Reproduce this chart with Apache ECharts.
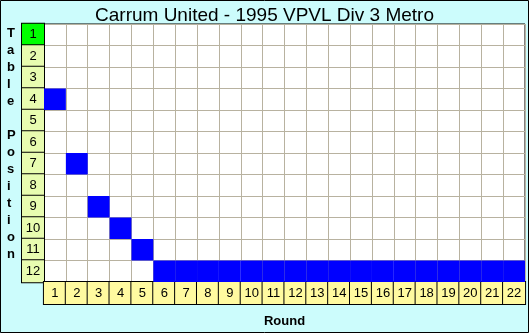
<!DOCTYPE html>
<html>
<head>
<meta charset="utf-8">
<script src="https://cdn.jsdelivr.net/npm/echarts@6/dist/echarts.min.js"></script>
<style>
html,body{margin:0;padding:0;background:#ccfcfc;}
#c{width:529px;height:333px;}
</style>
</head>
<body>
<div id="c"></div>
<script>
const titleText = 'Carrum United - 1995 VPVL Div 3 Metro';
const yAxisTitle = 'Table Position';
const xAxisTitle = 'Round';
const rounds = ['1','2','3','4','5','6','7','8','9','10','11','12','13','14','15','16','17','18','19','20','21','22'];
const positions = ['1','2','3','4','5','6','7','8','9','10','11','12'];
const tablePosition = [4,7,9,10,11,12,12,12,12,12,12,12,12,12,12,12,12,12,12,12,12,12];

const chart = echarts.init(document.getElementById('c'), null, {renderer:'canvas'});
const cellData = tablePosition.map((p,i)=>[i, p-1]);
const font = 'Arial, "Liberation Sans", sans-serif';
const cell = (bg)=>({width:22,height:22,lineHeight:22,align:'center',verticalAlign:'middle',
  backgroundColor:bg,borderColor:'#000',borderWidth:1,fontSize:13,color:'#000',fontFamily:font,padding:0});

chart.setOption({
  backgroundColor:'#ccfcfc',
  animation:false,
  title:{text:titleText,left:'center',top:1,itemGap:0,
    textStyle:{fontFamily:font,fontSize:19,fontWeight:'normal',color:'#000'}},
  grid:{left:44,top:24,width:484,height:264,show:true,backgroundColor:'#fff',borderColor:'#000',borderWidth:1},
  xAxis:{type:'category',data:rounds,
    axisLine:{show:false},axisTick:{show:false},
    splitLine:{show:true,interval:0,lineStyle:{color:'#b8b2a0',width:1}},
    axisLabel:{interval:0,margin:11,verticalAlign:'middle',align:'center',
      formatter:v=>'{y|'+v+'}',rich:{y:cell('#fffaa0')}},
    name:xAxisTitle,nameLocation:'middle',nameGap:33,
    nameTextStyle:{fontFamily:font,fontSize:13,fontWeight:'bold',color:'#000'}},
  yAxis:{type:'category',data:positions,inverse:true,
    axisLine:{show:false},axisTick:{show:false},
    splitLine:{show:true,interval:0,lineStyle:{color:'#b8b2a0',width:1}},
    axisLabel:{interval:0,margin:11,align:'center',verticalAlign:'middle',
      formatter:v=>(v==='1'?'{g|':'{p|')+v+'}',rich:{p:cell('#e8fcb0'),g:cell('#00ff00')}}},
  series:[{type:'custom',data:cellData,
    renderItem:function(params, api){
      const p0 = api.coord([api.value(0), api.value(1)]);
      const s = api.size([1,1]);
      return {type:'rect',shape:{x:p0[0]-s[0]/2,y:p0[1]-s[1]/2,width:s[0],height:s[1]},
        style:{fill:'#0000ff',stroke:null}};
    },
    encode:{x:0,y:1}}],
  graphic:[
    {type:'text',left:7,top:25,style:{text:yAxisTitle.split('').join('\n'),font:'bold 13px '+font,fill:'#000',lineHeight:17,align:'center',width:12}},
    {type:'rect',shape:{x:0.5,y:0.5,width:528,height:332},style:{fill:null,stroke:'#000',lineWidth:1},z:100}]
});
</script>
</body>
</html>
